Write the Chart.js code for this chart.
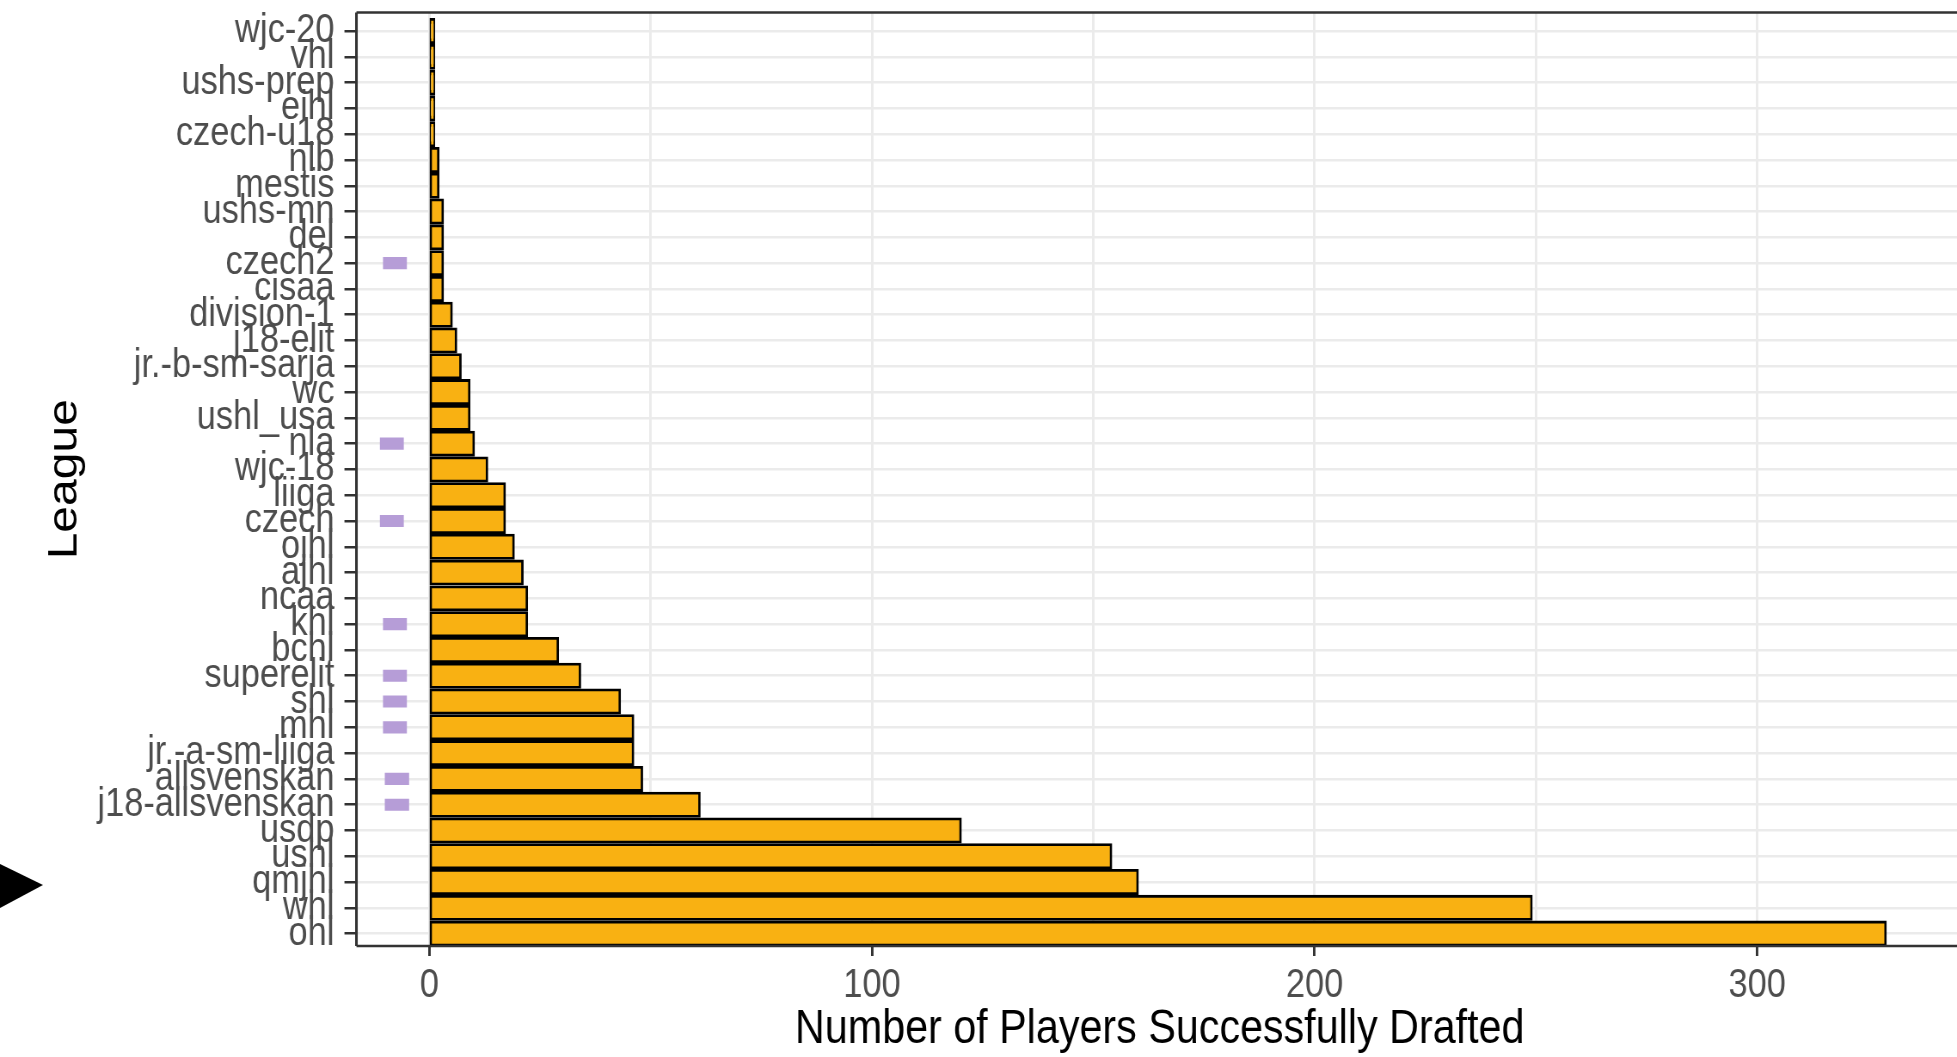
<!DOCTYPE html>
<html>
<head>
<meta charset="utf-8">
<script src="https://cdn.jsdelivr.net/npm/chart.js@4"></script>
<style>
  html, body { margin: 0; padding: 0; background: #ffffff; overflow: hidden; }
  #wrap { position: relative; width: 1963px; height: 1057px; }
</style>
</head>
<body>
<div id="wrap"><canvas id="c"></canvas></div>
<script>
// ---- data ----
const leagues = [
  'wjc-20', 'vhl', 'ushs-prep', 'eihl', 'czech-u18', 'nlb', 'mestis', 'ushs-mn',
  'del', 'czech2', 'cisaa', 'division-1', 'j18-elit', 'jr.-b-sm-sarja', 'wc',
  'ushl_usa', 'nla', 'wjc-18', 'liiga', 'czech', 'ojhl', 'ajhl', 'ncaa', 'khl',
  'bchl', 'superelit', 'shl', 'mhl', 'jr.-a-sm-liiga', 'allsvenskan',
  'j18-allsvenskan', 'usdp', 'ushl', 'qmjhl', 'whl', 'ohl'
];
const drafted = [
  1, 1, 1, 1, 1, 2, 2, 3,
  3, 3, 3, 5, 6, 7, 9,
  9, 10, 13, 17, 17, 19, 21, 22, 22,
  29, 34, 43, 46, 46, 48,
  61, 120, 154, 160, 249, 329
];
// highlighted leagues (purple marks left of zero)
const markedLeagues = ['czech2', 'nla', 'czech', 'khl', 'superelit', 'shl', 'mhl', 'allsvenskan', 'j18-allsvenskan'];
const markStart = [-10.5, -11.2, -11.2, -10.5, -10.5, -10.5, -10.5, -10.1, -10.1];
const markEnd   = [-5.1, -5.8, -5.8, -5.1, -5.1, -5.1, -5.1, -4.6, -4.6];
const xTickValues = [0, 50, 100, 150, 200, 250, 300];
const xMin = -16.5, xMax = 346.5;
const arrowLeague = 'qmjhl';

// ---- the reference picture is horizontally squeezed; reproduce that ----
const SQUEEZE = 0.86;
const CSS_W = 1963, CSS_H = 1057;
const canvas = document.getElementById('c');
canvas.width = Math.round(CSS_W / SQUEEZE);
canvas.height = CSS_H;
canvas.style.width = CSS_W + 'px';
canvas.style.height = CSS_H + 'px';
canvas.style.display = 'block';
const sx = v => v / SQUEEZE;   // screen-x length -> canvas-x length

const markData = leagues.map(l => {
  const i = markedLeagues.indexOf(l);
  return i >= 0 ? [markStart[i], markEnd[i]] : null;
});

const FAMILY = "'Liberation Sans', Arial, sans-serif";
const tickFont = { family: FAMILY, size: 40, lineHeight: 1.2 };
const titleFont = { family: FAMILY, size: 48, lineHeight: 1 };

const panelBorder = {
  id: 'panelBorder',
  afterDraw(chart) {
    const { ctx, chartArea: a } = chart;
    ctx.save();
    ctx.strokeStyle = '#333333';
    ctx.lineWidth = 2.6;
    ctx.beginPath();
    ctx.moveTo(a.left, a.top); ctx.lineTo(a.right, a.top);
    ctx.moveTo(a.left, a.bottom); ctx.lineTo(a.right, a.bottom);
    ctx.stroke();
    ctx.lineWidth = sx(2.6);
    ctx.beginPath();
    ctx.moveTo(a.left, a.top); ctx.lineTo(a.left, a.bottom);
    ctx.moveTo(a.right, a.top); ctx.lineTo(a.right, a.bottom);
    ctx.stroke();
    ctx.restore();
  }
};

const arrowMark = {
  id: 'arrowMark',
  afterDraw(chart) {
    const { ctx } = chart;
    const y = chart.scales.y.getPixelForValue(leagues.indexOf(arrowLeague)) + 3;
    ctx.save();
    ctx.fillStyle = '#000000';
    ctx.beginPath();
    ctx.moveTo(0, y - 21);
    ctx.lineTo(sx(43), y);
    ctx.lineTo(0, y + 23);
    ctx.closePath();
    ctx.fill();
    ctx.restore();
  }
};

new Chart(canvas, {
  type: 'bar',
  data: {
    labels: leagues,
    datasets: [
      {
        data: drafted,
        backgroundColor: '#F9B112',
        borderColor: '#000000',
        borderWidth: 2.8,
        borderSkipped: false,
        inflateAmount: 1.4,
        barPercentage: 0.9,
        categoryPercentage: 1,
        grouped: false
      },
      {
        data: markData,
        backgroundColor: '#B69DD7',
        borderWidth: 0,
        inflateAmount: 0,
        barPercentage: 0.47,
        categoryPercentage: 1,
        grouped: false
      }
    ]
  },
  options: {
    indexAxis: 'y',
    responsive: false,
    animation: false,
    devicePixelRatio: 1,
    layout: { padding: { top: 12.5, left: 0, right: 0, bottom: 0 } },
    plugins: { legend: { display: false }, tooltip: { enabled: false } },
    scales: {
      x: {
        type: 'linear',
        min: xMin,
        max: xMax,
        afterBuildTicks: s => { s.ticks = xTickValues.map(v => ({ value: v })); },
        afterFit: s => {
          s.height = 111;
          s.paddingLeft = 0; s.paddingRight = 0; s.paddingTop = 0; s.paddingBottom = 0;
        },
        ticks: {
          callback: v => (v % 100 === 0 ? String(v) : ''),
          color: '#4D4D4D',
          font: tickFont,
          padding: 6,
          maxRotation: 0,
          autoSkip: false
        },
        grid: {
          color: '#EBEBEB',
          lineWidth: sx(2.5),
          tickLength: 10,
          tickWidth: sx(2.5),
          tickColor: c => (c.tick && c.tick.value % 100 === 0) ? '#333333' : 'rgba(0,0,0,0)'
        },
        border: { display: false },
        title: {
          display: true,
          text: 'Number of Players Successfully Drafted',
          color: '#000000',
          font: titleFont,
          padding: { top: 0, bottom: 3 }
        }
      },
      y: {
        // ggplot-like discrete expansion (0.6 units each side), slightly lower start
        afterBuildTicks: s => { s._startValue -= 0.22; s._valueRange += 0.2; },
        afterFit: s => {
          s.width = sx(356.5);
          s.paddingLeft = 0; s.paddingRight = 0; s.paddingTop = 0; s.paddingBottom = 0;
        },
        ticks: {
          color: '#4D4D4D',
          font: tickFont,
          padding: sx(10),
          autoSkip: false
        },
        grid: {
          offset: false,
          color: '#EBEBEB',
          lineWidth: 2.5,
          tickLength: sx(12),
          tickWidth: 2.5,
          tickColor: '#333333'
        },
        border: { display: false },
        title: {
          display: true,
          text: 'League',
          color: '#000000',
          font: titleFont,
          padding: { top: sx(65) - 24, bottom: 0 }
        }
      }
    }
  },
  plugins: [panelBorder, arrowMark]
});
</script>
</body>
</html>
